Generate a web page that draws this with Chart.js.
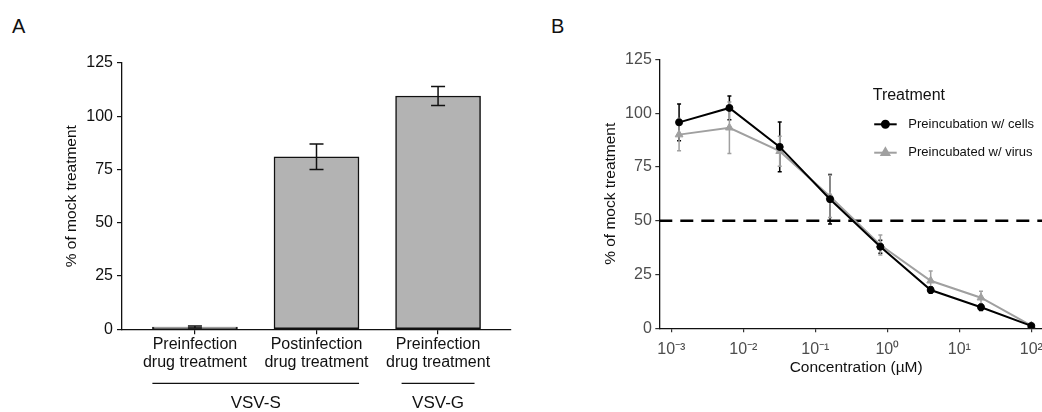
<!DOCTYPE html>
<html lang="en">
<head>
  <meta charset="UTF-8">
  <title>Drug treatment, % of mock</title>
  <style>
    body {
      margin: 0;
      width: 1042px;
      height: 412px;
      overflow: hidden;
      position: relative;
      background: #fff;
      font-family: 'Liberation Sans', Arial, sans-serif;
    }
    .panel-label {
      position: absolute;
      font-size: 20px;
      line-height: 1;
      color: #111;
    }
    #chartA { position: absolute; left: 0; top: 0; }
    #chartB { position: absolute; left: 520px; top: 0; }
  </style>
</head>
<body>
  <div class="panel-label" style="left:12px; top:16px">A</div>
  <div class="panel-label" style="left:551px; top:16px">B</div>
  <canvas id="chartA" width="520" height="412"></canvas>
  <canvas id="chartB" width="545" height="412"></canvas>

  <script src="https://cdn.jsdelivr.net/npm/chart.js"></script>
  <script>
    // --- panel A data
    const treatments = [['Preinfection', 'drug treatment'], ['Postinfection', 'drug treatment'], ['Preinfection', 'drug treatment']];
    const pctMock = [1.1, 81, 109.5];
    const pctMockErr = [0.5, 6, 4.5];
    const virusGroups = ['VSV-S', 'VSV-G'];
    const groupFrom = [-0.35, 1.7];   // in category units
    const groupTo = [1.35, 2.3];
    const yTicks = [0, 25, 50, 75, 100, 125];

    // --- panel B data
    const concentration = [0.00128, 0.0064, 0.032, 0.16, 0.8, 4, 20, 100];
    const withCells = [95.7, 102.4, 84.3, 60, 37.9, 17.8, 9.8, 1.1];
    const withCellsErr = [8.5, 5.5, 11.6, 11.5, 3, 1.5, 1.5, 0.5];
    const withVirus = [90, 93.2, 82.3, 61.3, 38.7, 22.1, 14.2, 1.2];
    const withVirusErr = [7.5, 12, 7, 9.8, 4.6, 4.5, 3, 0.5];
    const xTicksB = [1e-3, 1e-2, 1e-1, 1, 10, 100];
    const xTickLabelsB = ['10⁻³', '10⁻²', '10⁻¹', '10⁰', '10¹', '10²'];
    const xMinB = 6.8e-4, xMaxB = 200;
    const ic50 = 50;

    const family = "'Liberation Sans', Arial, sans-serif";
    const ink = '#111';
    const greyText = '#4d4d4d';

    function drawErrors(chart, errs, capHalf) {
      const ctx = chart.ctx;
      const y = chart.scales.y;
      errs.forEach((list, di) => {
        if (!list) return;
        const ds = chart.data.datasets[di];
        const meta = chart.getDatasetMeta(di);
        ctx.save();
        ctx.strokeStyle = ds.borderColor;
        ctx.lineWidth = 1.5;
        meta.data.forEach((el, i) => {
          const v = ds.data[i].y;
          const top = y.getPixelForValue(v + list[i]);
          const bot = y.getPixelForValue(v - list[i]);
          ctx.beginPath();
          ctx.moveTo(el.x, top); ctx.lineTo(el.x, bot);
          ctx.moveTo(el.x - capHalf, top); ctx.lineTo(el.x + capHalf, top);
          ctx.moveTo(el.x - capHalf, bot); ctx.lineTo(el.x + capHalf, bot);
          ctx.stroke();
        });
        ctx.restore();
      });
    }

    // ---------- A: bars
    new Chart(document.getElementById('chartA'), {
      type: 'bar',
      data: {
        datasets: [{
          data: pctMock.map((v, i) => ({ x: i, y: v })),
          backgroundColor: '#b3b3b3',
          borderColor: ink,
          borderWidth: 1.5,
          borderSkipped: false,
          barThickness: 85
        }]
      },
      options: {
        responsive: false,
        animation: false,
        devicePixelRatio: 1,
        layout: { padding: { left: 55, right: 9, top: 63, bottom: 22.7 } },
        plugins: { legend: { display: false }, tooltip: { enabled: false } },
        scales: {
          x: {
            type: 'linear',
            min: -0.6,
            max: 2.6,
            offset: false,
            afterFit: s => { s.height = 60; },
            afterBuildTicks: s => { s.ticks = treatments.map((t, i) => ({ value: i })); },
            grid: { offset: false, drawOnChartArea: false, tickLength: 5, color: ink, lineWidth: 1.2 },
            border: { color: ink, width: 1.3 },
            ticks: {
              callback: v => treatments[v],
              color: ink,
              font: { family: family, size: 16, lineHeight: 1.15 },
              padding: 1,
              maxRotation: 0,
              autoSkip: false
            }
          },
          y: {
            min: 0,
            max: 125,
            afterFit: s => { s.width = 67; },
            afterBuildTicks: s => { s.ticks = yTicks.map(v => ({ value: v })); },
            grid: { drawOnChartArea: false, tickLength: 5, color: ink, lineWidth: 1.2 },
            border: { color: ink, width: 1.3 },
            ticks: { color: ink, font: { family: family, size: 16 }, padding: 4 },
            title: {
              display: true,
              text: '% of mock treatment',
              color: ink,
              font: { family: family, size: 15.5 },
              padding: { top: 7.7, bottom: 0 }
            }
          }
        }
      },
      plugins: [{
        id: 'barErrors',
        afterDatasetsDraw(chart) { drawErrors(chart, [pctMockErr], 7); }
      }, {
        id: 'virusGroups',
        afterDraw(chart) {
          const { ctx, chartArea, scales: { x } } = chart;
          ctx.save();
          ctx.strokeStyle = ink;
          ctx.lineWidth = 1.2;
          ctx.fillStyle = ink;
          ctx.font = '17px ' + family;
          ctx.textAlign = 'center';
          ctx.textBaseline = 'middle';
          virusGroups.forEach((g, i) => {
            const x0 = x.getPixelForValue(groupFrom[i]);
            const x1 = x.getPixelForValue(groupTo[i]);
            const yl = chartArea.bottom + 54;
            ctx.beginPath();
            ctx.moveTo(x0, yl);
            ctx.lineTo(x1, yl);
            ctx.stroke();
            ctx.fillText(g, (x0 + x1) / 2, yl + 20);
          });
          ctx.restore();
        }
      }]
    });

    // ---------- B: dose response
    new Chart(document.getElementById('chartB'), {
      type: 'line',
      data: {
        datasets: [{
          label: 'Preincubation w/ cells',
          data: concentration.map((c, i) => ({ x: c, y: withCells[i] })),
          borderColor: '#000',
          backgroundColor: '#000',
          borderWidth: 2,
          pointStyle: 'circle',
          pointRadius: 3.5,
          pointBorderWidth: 1
        }, {
          label: 'Preincubated w/ virus',
          data: concentration.map((c, i) => ({ x: c, y: withVirus[i] })),
          borderColor: '#a0a0a0',
          backgroundColor: '#a0a0a0',
          borderWidth: 2,
          pointStyle: 'triangle',
          pointRadius: 4.5,
          pointBorderWidth: 1
        }, {
          label: 'IC50',
          data: [{ x: xMinB, y: ic50 }, { x: xMaxB, y: ic50 }],
          borderColor: '#000',
          borderWidth: 2.5,
          borderDash: [13, 8],
          pointRadius: 0
        }]
      },
      options: {
        responsive: false,
        animation: false,
        devicePixelRatio: 1,
        layout: { padding: { left: 70, right: 12, top: 59.3, bottom: 33.7 } },
        plugins: { legend: { display: false }, tooltip: { enabled: false } },
        scales: {
          x: {
            type: 'logarithmic',
            min: xMinB,
            max: xMaxB,
            afterFit: s => { s.height = 50; },
            afterBuildTicks: s => { s.ticks = xTicksB.map(v => ({ value: v })); },
            grid: { drawOnChartArea: false, tickLength: 4, color: '#333', lineWidth: 1.2 },
            border: { color: ink, width: 1.3 },
            ticks: {
              callback: v => xTickLabelsB[xTicksB.indexOf(v)],
              color: greyText,
              font: { family: family, size: 16 },
              padding: 8,
              maxRotation: 0,
              autoSkip: false
            },
            title: {
              display: true,
              text: 'Concentration (µM)',
              color: ink,
              font: { family: family, size: 15.5 },
              padding: { top: 0, bottom: 1 }
            }
          },
          y: {
            min: 0,
            max: 125,
            afterFit: s => { s.width = 69.3; },
            afterBuildTicks: s => { s.ticks = yTicks.map(v => ({ value: v })); },
            grid: { drawOnChartArea: false, tickLength: 4, color: '#333', lineWidth: 1.2 },
            border: { color: ink, width: 1.3 },
            ticks: { color: greyText, font: { family: family, size: 16 }, padding: 3.5 },
            title: {
              display: true,
              text: '% of mock treatment',
              color: ink,
              font: { family: family, size: 15.5 },
              padding: { top: 11.4, bottom: 0 }
            }
          }
        }
      },
      plugins: [{
        id: 'doseErrors',
        beforeDatasetsDraw(chart) { drawErrors(chart, [withCellsErr, withVirusErr], 2); }
      }, {
        id: 'treatmentLegend',
        afterDraw(chart) {
          const { ctx, chartArea } = chart;
          const left = chartArea.left + 213.4;
          const top = chartArea.top;
          ctx.save();
          ctx.fillStyle = ink;
          ctx.textAlign = 'left';
          ctx.textBaseline = 'middle';
          ctx.font = '16px ' + family;
          ctx.fillText('Treatment', left, top + 36);
          ctx.font = '13px ' + family;
          [0, 1].forEach(i => {
            const ds = chart.data.datasets[i];
            const y = top + 65 + i * 28.4;
            ctx.strokeStyle = ds.borderColor;
            ctx.lineWidth = 2;
            ctx.beginPath();
            ctx.moveTo(left + 1.5, y);
            ctx.lineTo(left + 24, y);
            ctx.stroke();
            ctx.fillStyle = ds.backgroundColor;
            Chart.helpers.drawPoint(ctx, {
              pointStyle: ds.pointStyle, radius: ds.pointRadius, borderWidth: 1, rotation: 0
            }, left + 12.7, y);
            ctx.fillStyle = ink;
            ctx.fillText(ds.label, left + 35.6, y);
          });
          ctx.restore();
        }
      }]
    });
  </script>
</body>
</html>
